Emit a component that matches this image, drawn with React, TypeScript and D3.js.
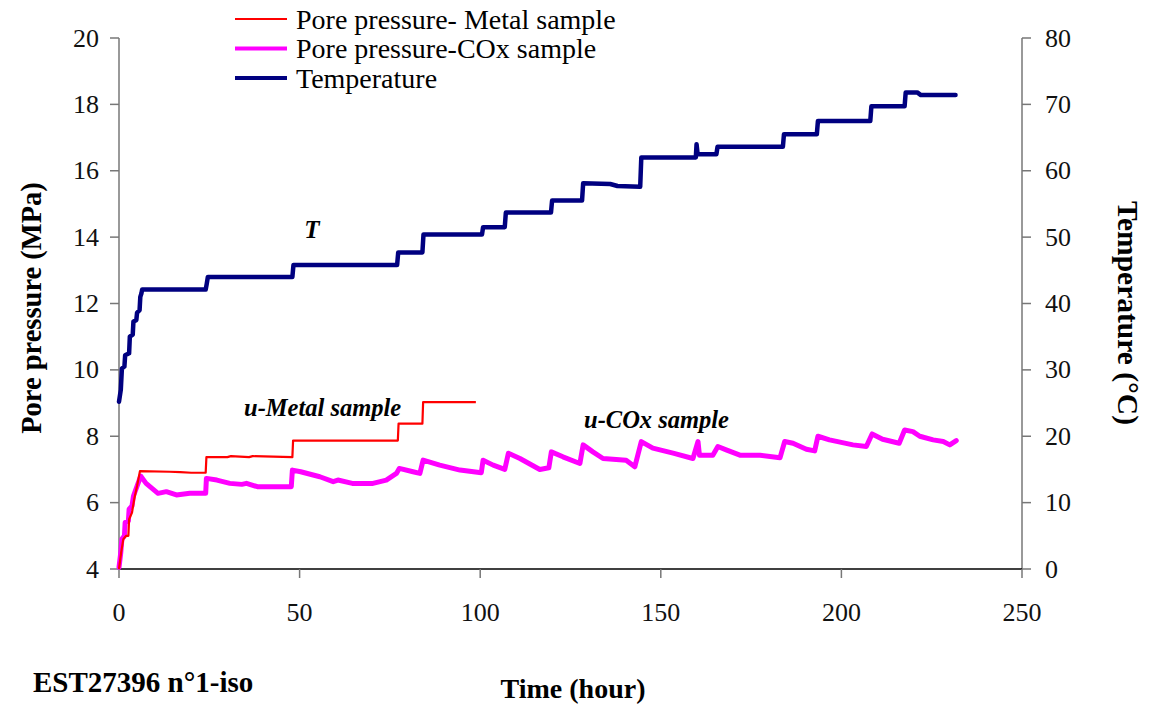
import React from "react";
import * as d3 from "d3";

const tempTime = [0, 0.5, 0.8, 1.5, 1.7, 2.8, 3.0, 3.8, 4.0, 4.8, 5.0, 5.7, 5.9, 6.2, 6.4, 24.0, 24.3, 24.6, 48.0, 48.3, 77.0, 77.3, 84.0, 84.3, 100.5, 100.8, 106.8, 107.1, 119.6, 119.9, 128.2, 128.5, 136, 138, 144.3, 144.6, 159.7, 159.9, 160.2, 165.4, 165.7, 183.8, 184.1, 193.2, 193.5, 208.0, 208.3, 217.5, 217.8, 221, 222, 231.6];
const tempValues = [25.2, 27, 30.2, 30.5, 32.2, 32.5, 35, 35.3, 37.3, 37.5, 38.6, 39, 41, 41.5, 42.1, 42.1, 43, 44.0, 44.0, 45.8, 45.8, 47.7, 47.7, 50.4, 50.4, 51.5, 51.5, 53.7, 53.7, 55.5, 55.5, 58.1, 58.0, 57.7, 57.6, 62.0, 62.0, 64.0, 62.5, 62.5, 63.6, 63.6, 65.5, 65.5, 67.5, 67.5, 69.7, 69.7, 71.8, 71.8, 71.4, 71.4];

const metalTime = [0, 0.6, 1.2, 2.0, 2.6, 2.8, 3.6, 4.2, 5.0, 5.8, 14, 17, 20, 24.0, 24.2, 30, 31, 36, 37, 48.0, 48.2, 77.2, 77.4, 84.0, 84.2, 98.8];
const metalValues = [4.0, 4.5, 4.9, 5.0, 5.0, 5.5, 5.7, 6.1, 6.5, 6.95, 6.93, 6.92, 6.9, 6.9, 7.37, 7.37, 7.4, 7.37, 7.4, 7.37, 7.87, 7.87, 8.38, 8.38, 9.03, 9.03];

const coxTime = [0, 0.5, 0.8, 1.5, 1.7, 2.6, 2.8, 3.6, 4.0, 5.0, 6.0, 7.5, 10.8, 13.1, 15.9, 19.6, 24.0, 24.2, 27.1, 30.7, 34, 35.3, 38.3, 47.7, 48.0, 50.3, 55.6, 59.3, 60.6, 64.6, 70.3, 74.0, 76.8, 77.6, 81.4, 83.3, 84.2, 88.8, 94.4, 100.3, 100.8, 103.6, 106.8, 107.8, 111.0, 116.5, 119.0, 119.7, 122.9, 127.6, 128.5, 131.2, 134.0, 140.4, 142.8, 144.6, 147.8, 153.4, 158.9, 160.3, 160.7, 164.4, 165.8, 168.1, 171.9, 177.5, 183.0, 184.3, 186.6, 190.3, 192.6, 193.5, 196.7, 203.2, 206.9, 208.5, 211.4, 216.0, 217.5, 219.8, 221.7, 225.4, 228.2, 230.0, 231.8];
const coxValues = [4.05, 4.5, 4.9, 5.0, 5.4, 5.45, 5.8, 5.9, 6.2, 6.5, 6.8, 6.58, 6.28, 6.33, 6.23, 6.28, 6.28, 6.73, 6.68, 6.58, 6.55, 6.58, 6.48, 6.48, 6.98, 6.93, 6.78, 6.63, 6.68, 6.58, 6.58, 6.68, 6.88, 7.03, 6.93, 6.88, 7.28, 7.13, 6.98, 6.9, 7.28, 7.13, 7.0, 7.49, 7.33, 7.0, 7.05, 7.53, 7.38, 7.18, 7.74, 7.53, 7.33, 7.28, 7.08, 7.84, 7.64, 7.49, 7.33, 7.84, 7.43, 7.43, 7.69, 7.59, 7.43, 7.43, 7.35, 7.84, 7.79, 7.61, 7.56, 8.0, 7.89, 7.74, 7.69, 8.07, 7.91, 7.79, 8.19, 8.14, 8.0, 7.89, 7.84, 7.74, 7.87];

const xTicks = [0, 50, 100, 150, 200, 250];
const leftTicks = [4, 6, 8, 10, 12, 14, 16, 18, 20];
const rightTicks = [0, 10, 20, 30, 40, 50, 60, 70, 80];

const legendItems = [
  { label: "Pore pressure- Metal sample", color: "#FF0000", width: 2 },
  { label: "Pore pressure-COx sample", color: "#FF00FF", width: 4 },
  { label: "Temperature", color: "#000080", width: 4 },
];

const FONT = "'Times New Roman', Times, 'Liberation Serif', 'DejaVu Serif', serif";

export default function App() {
  const W = 1149, H = 704;
  const x = d3.scaleLinear().domain([0, 250]).range([119, 1022]);
  const yL = d3.scaleLinear().domain([4, 20]).range([569, 38]);
  const yR = d3.scaleLinear().domain([0, 80]).range([569, 38]);

  const lineP = d3.line<[number, number]>().x(d => x(d[0])).y(d => yL(d[1]));
  const lineT = d3.line<[number, number]>().x(d => x(d[0])).y(d => yR(d[1]));

  const metal = metalTime.map((t, i) => [t, metalValues[i]] as [number, number]);
  const cox = coxTime.map((t, i) => [t, coxValues[i]] as [number, number]);
  const temp = tempTime.map((t, i) => [t, tempValues[i]] as [number, number]);

  const axisGray = "#777";
  const ts = { fontFamily: FONT };

  return (
    <svg width={W} height={H} style={{ position: "absolute", left: 0, top: 0, background: "#fff", fontFamily: FONT }}>
      <rect x={0} y={0} width={W} height={H} fill="#fff" />
      <line x1={119} x2={119} y1={yL(20)} y2={yL(4)} stroke={axisGray} strokeWidth={1.5} />
      {leftTicks.map(v => (
        <g key={"l" + v}>
          <line x1={110} x2={119} y1={yL(v)} y2={yL(v)} stroke={axisGray} strokeWidth={1.5} />
          <text style={ts} x={99} y={yL(v)} textAnchor="end" dominantBaseline="central" fontSize={26} fill="#111">{v}</text>
        </g>
      ))}
      <line x1={1022} x2={1022} y1={yR(80)} y2={yR(0)} stroke={axisGray} strokeWidth={1.5} />
      {rightTicks.map(v => (
        <g key={"r" + v}>
          <line x1={1022} x2={1031} y1={yR(v)} y2={yR(v)} stroke={axisGray} strokeWidth={1.5} />
          <text style={ts} x={1045} y={yR(v)} textAnchor="start" dominantBaseline="central" fontSize={26} fill="#111">{v}</text>
        </g>
      ))}
      <line x1={119} x2={1022} y1={569} y2={569} stroke="#000" strokeWidth={1.5} />
      {xTicks.map(v => (
        <g key={"x" + v}>
          <line x1={x(v)} x2={x(v)} y1={569} y2={578} stroke={axisGray} strokeWidth={1.5} />
          <text style={ts} x={x(v)} y={612} textAnchor="middle" dominantBaseline="central" fontSize={26} fill="#111">{v}</text>
        </g>
      ))}

      <path d={lineP(cox) || ""} fill="none" stroke="#FF00FF" strokeWidth={5} strokeLinejoin="round" strokeLinecap="round" />
      <path d={lineP(metal) || ""} fill="none" stroke="#FF0000" strokeWidth={2.2} strokeLinejoin="round" />
      <path d={lineT(temp) || ""} fill="none" stroke="#000080" strokeWidth={4.5} strokeLinejoin="round" strokeLinecap="round" />

      <text style={ts} x={312} y={238} textAnchor="middle" fontSize={25} fontWeight="bold" fontStyle="italic" fill="#000">T</text>
      <text style={ts} x={244} y={416} fontSize={24.5} fontWeight="bold" fontStyle="italic" fill="#000">u-Metal sample</text>
      <text style={ts} x={584} y={428} fontSize={24.5} fontWeight="bold" fontStyle="italic" fill="#000">u-COx sample</text>

      <text style={ts} transform={`translate(31,308) rotate(-90)`} textAnchor="middle" dominantBaseline="central" fontSize={28.5} fontWeight="bold" fill="#000">Pore pressure (MPa)</text>
      <text style={ts} transform={`translate(1128,313) rotate(90)`} textAnchor="middle" dominantBaseline="central" fontSize={29.5} fontWeight="bold" fill="#000">Temperature (°C)</text>
      <text style={ts} x={573} y={688} textAnchor="middle" dominantBaseline="central" fontSize={28} fontWeight="bold" fill="#000">Time (hour)</text>
      <text style={ts} x={33} y={682} dominantBaseline="central" fontSize={29} fontWeight="bold" fill="#000">EST27396 n°1-iso</text>

      {legendItems.map((it, i) => (
        <g key={it.label}>
          <line x1={235} x2={287} y1={19 + i * 29.5} y2={19 + i * 29.5} stroke={it.color} strokeWidth={it.width} />
          <text style={ts} x={296} y={19 + i * 29.5} dominantBaseline="central" fontSize={28} fill="#000">{it.label}</text>
        </g>
      ))}
    </svg>
  );
}
